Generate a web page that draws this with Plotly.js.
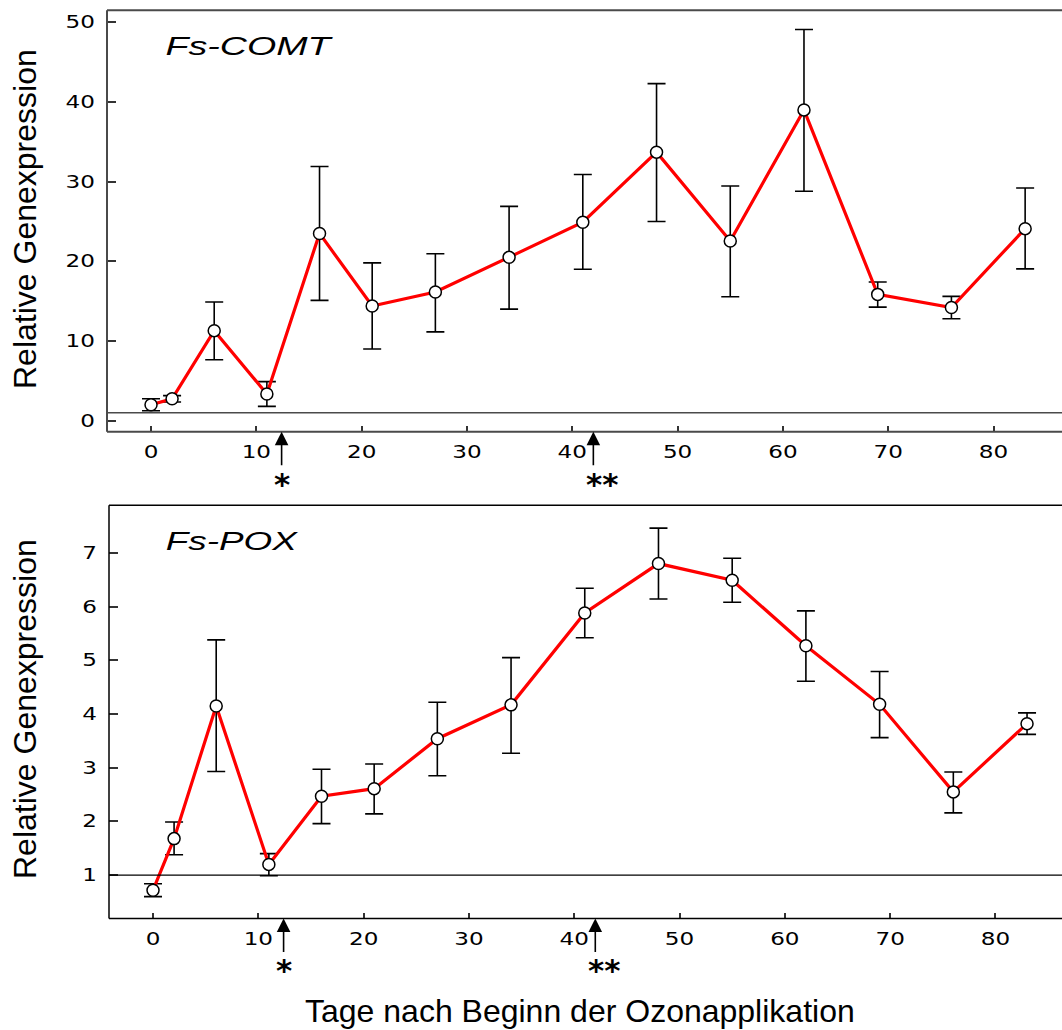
<!DOCTYPE html>
<html>
<head>
<meta charset="utf-8">
<script src="https://cdn.plot.ly/plotly-3.0.1.min.js"></script>
<style>html,body{margin:0;padding:0;background:#fff;}#chart{width:1062px;height:1030px;}</style>
</head>
<body>
<div id="chart"></div>
<script>
// ---- data ----
const days = [0, 2, 6, 11, 16, 21, 27, 34, 41, 48, 55, 62, 69, 76, 83];

const comt = [2.0, 2.75, 11.3, 3.35, 23.5, 14.4, 16.15, 20.5, 24.9, 33.7, 22.55, 39.0, 15.85, 14.2, 24.1];
const comtErrUp = [0.75, 0.4, 3.6, 1.55, 8.4, 5.4, 4.8, 6.4, 6.0, 8.6, 6.9, 10.1, 1.55, 1.4, 5.1];
const comtErrDown = [0.75, 0.4, 3.65, 1.55, 8.4, 5.4, 5.0, 6.5, 5.9, 8.7, 7.0, 10.2, 1.6, 1.4, 5.05];

const pox = [0.72, 1.68, 4.15, 1.2, 2.47, 2.61, 3.54, 4.17, 5.88, 6.80, 6.49, 5.27, 4.18, 2.55, 3.82];
const poxErrUp = [0.12, 0.31, 1.23, 0.2, 0.5, 0.46, 0.68, 0.88, 0.46, 0.66, 0.41, 0.65, 0.61, 0.37, 0.2];
const poxErrDown = [0.12, 0.3, 1.22, 0.21, 0.51, 0.47, 0.69, 0.9, 0.46, 0.66, 0.41, 0.66, 0.62, 0.39, 0.2];

const xTicks = [0, 10, 20, 30, 40, 50, 60, 70, 80];
const comtTicks = [0, 10, 20, 30, 40, 50];
const poxTicks = [1, 2, 3, 4, 5, 6, 7];

const baseline = 1;                 // reference line (relative expression = 1)
const ozoneDays = [12.4, 42];       // arrows: ozone applications
const ozoneMarks = ['*', '**'];

const panelTitles = ['Fs-COMT', 'Fs-POX'];
const yTitle = 'Relative Genexpression';
const xTitle = 'Tage nach Beginn der Ozonapplikation';

// ---- helpers ----
const W = 1062, H = 1030;
const px = v => v / W;
const py = v => 1 - v / H;

function seriesTrace(y, up, down, xa, ya) {
  return {
    x: days, y: y, xaxis: xa, yaxis: ya,
    type: 'scatter', mode: 'lines+markers',
    line: {color: '#ff0000', width: 3.2},
    marker: {symbol: 'circle', size: 12, color: '#ffffff', line: {color: '#000000', width: 1.5}},
    error_y: {type: 'data', symmetric: false, array: up, arrayminus: down,
              color: '#000000', thickness: 1.6, width: 9},
    hoverinfo: 'x+y', showlegend: false, cliponaxis: false
  };
}

const data = [
  seriesTrace(comt, comtErrUp, comtErrDown, 'x', 'y'),
  seriesTrace(pox, poxErrUp, poxErrDown, 'x2', 'y2')
];

const tickFont = {family: 'DejaVu Sans', size: 17, color: '#000'};

function xAxis(domain, range, anchor) {
  return {domain: domain, range: range, anchor: anchor, tickmode: 'array', tickvals: xTicks,
          ticktext: xTicks.map(String), ticks: 'inside', ticklen: 6, tickwidth: 1.5, tickcolor: '#333',
          showline: false, zeroline: false, showgrid: false, tickfont: tickFont,
          ticklabelstandoff: 8, automargin: false, fixedrange: true};
}
function yAxis(domain, range, anchor, tv) {
  return {domain: domain, range: range, anchor: anchor, tickmode: 'array', tickvals: tv,
          ticktext: tv.map(String), ticks: 'inside', ticklen: 9, tickwidth: 1.5, tickcolor: '#333',
          showline: false, zeroline: false, showgrid: false, tickfont: tickFont,
          ticklabelstandoff: 11, automargin: false, fixedrange: true};
}

function frame(xr, yr, color, w) {
  const d = xr + ' domain', e = yr + ' domain';
  return [
    {type: 'line', xref: d, yref: e, x0: 0, x1: 1, y0: 1, y1: 1, line: {color: color, width: w}},
    {type: 'line', xref: d, yref: e, x0: 0, x1: 0, y0: 0, y1: 1, line: {color: color, width: w}},
    {type: 'line', xref: d, yref: e, x0: 0, x1: 1, y0: 0, y1: 0, line: {color: color, width: w}},
    {type: 'line', xref: d, yref: yr, x0: 0, x1: 1, y0: baseline, y1: baseline, line: {color: color, width: 1.3}}
  ];
}

const topDom = [py(431.7), py(10.3)];
const botDom = [py(918.5), py(505.3)];

const annotations = [];
// panel titles
annotations.push({xref: 'paper', yref: 'paper', x: px(249), y: py(46), xanchor: 'center', yanchor: 'middle',
  text: panelTitles[0], showarrow: false, font: {family: 'Liberation Sans', size: 26, style: 'italic', color: '#000'}});
annotations.push({xref: 'paper', yref: 'paper', x: px(232), y: py(541), xanchor: 'center', yanchor: 'middle',
  text: panelTitles[1], showarrow: false, font: {family: 'Liberation Sans', size: 26, style: 'italic', color: '#000'}});
// y titles
[219, 709].forEach(c => annotations.push({xref: 'paper', yref: 'paper', x: px(25), y: py(c),
  xanchor: 'center', yanchor: 'middle', textangle: -90, text: yTitle, showarrow: false,
  font: {family: 'Liberation Sans', size: 32, color: '#000'}}));
// x title
annotations.push({xref: 'paper', yref: 'paper', x: px(580), y: py(1011), xanchor: 'center', yanchor: 'middle',
  text: xTitle, showarrow: false, font: {family: 'Liberation Sans', size: 32, color: '#000'}});
// arrows + stars
[['x', topDom[0], 484], ['x2', botDom[0], 970]].forEach(([xr, yb, starPx]) => {
  ozoneDays.forEach((d, i) => {
    annotations.push({xref: xr, yref: 'paper', x: d, y: yb, ax: 0, ay: 35, axref: 'pixel', ayref: 'pixel',
      text: '', showarrow: true, arrowhead: 2, arrowsize: 1.7, arrowwidth: 1.6, arrowcolor: '#000', standoff: 0, startstandoff: 0});
    annotations.push({xref: xr, yref: 'paper', x: d, y: py(starPx), xanchor: i === 0 ? 'center' : 'left',
      xshift: i === 0 ? 0 : -9, yanchor: 'middle', text: ozoneMarks[i], showarrow: false,
      font: {family: 'DejaVu Sans', size: 31, weight: 'bold', color: '#000'}});
  });
});

const layout = {
  width: W, height: H,
  margin: {l: 0, r: 0, t: 0, b: 0, pad: 0},
  paper_bgcolor: '#ffffff', plot_bgcolor: '#ffffff',
  showlegend: false,
  xaxis: xAxis([px(107), 1], [-4.18, 86.5], 'y'),
  yaxis: yAxis(topDom, [-1.38, 51.5], 'x', comtTicks),
  xaxis2: xAxis([px(109), 1], [-4.18, 86.32], 'y2'),
  yaxis2: yAxis(botDom, [0.193, 7.885], 'x2', poxTicks),
  shapes: frame('x', 'y', '#4a4a4a', 2).concat(frame('x2', 'y2', '#000000', 1.5)),
  annotations: annotations
};

Plotly.newPlot('chart', data, layout, {displayModeBar: false, responsive: false}).then(() => {
  // the reference uses horizontally wide lettering for tick labels and panel titles
  document.querySelectorAll('.xtick text, .ytick text, .x2tick text, .y2tick text').forEach(t => {
    const w = t.getComputedTextLength();
    t.setAttribute('textLength', (w * 1.36).toFixed(1));
    t.setAttribute('lengthAdjust', 'spacingAndGlyphs');
  });
  const targets = {'Fs-COMT': 165, 'Fs-POX': 131};
  document.querySelectorAll('.annotation-text').forEach(t => {
    const k = t.textContent;
    if (targets[k]) {
      t.setAttribute('textLength', targets[k]);
      t.setAttribute('lengthAdjust', 'spacingAndGlyphs');
    }
  });
});
</script>
</body>
</html>
